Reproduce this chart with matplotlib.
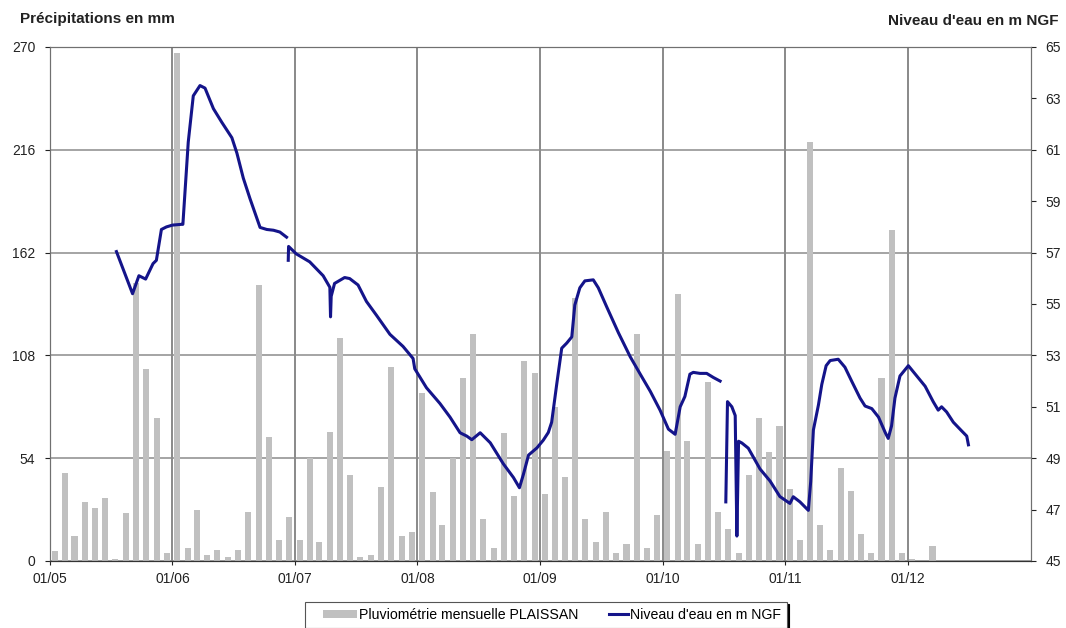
import numpy as np
import pandas as pd
import matplotlib
matplotlib.use('Agg')
import matplotlib.pyplot as plt
import matplotlib.dates as mdates
from matplotlib.patches import Patch
from matplotlib.legend_handler import HandlerLine2D, HandlerPatch

plt.rcParams['font.family'] = ['Liberation Sans', 'DejaVu Sans']

# pluviometrie mensuelle PLAISSAN (mm), janvier 2005 -> mars 2012
rain_2005 = [5, 46, 13, 31, 28, 33, 1, 25, 146, 101, 75, 4]
rain_2006 = [267, 7, 27, 3, 6, 2, 6, 26, 145, 65, 11, 23]
rain_2007 = [11, 54, 10, 68, 117, 45, 2, 3, 39, 102, 13, 15]
rain_2008 = [88, 36, 19, 54, 96, 119, 22, 7, 67, 34, 105, 99]
rain_2009 = [35, 81, 44, 138, 22, 10, 26, 4, 9, 119, 7, 24]
rain_2010 = [58, 140, 63, 9, 94, 26, 17, 4, 45, 75, 57, 71]
rain_2011 = [38, 11, 220, 19, 6, 49, 37, 14, 4, 96, 174, 4]
rain_2012 = [1, 0, 8]
rain = (rain_2005 + rain_2006 + rain_2007 + rain_2008 + rain_2009
        + rain_2010 + rain_2011 + rain_2012)
months = pd.date_range('2005-01-01', periods=len(rain), freq='MS') + pd.Timedelta(days=14)

# niveau d'eau (m NGF), trois troncons
seg1_dates = ['2005-07-18', '2005-09-04', '2005-09-23', '2005-10-13', '2005-11-04',
              '2005-11-14', '2005-11-29', '2005-12-14', '2006-01-01', '2006-01-28',
              '2006-02-01', '2006-02-17', '2006-03-04', '2006-03-24', '2006-04-08',
              '2006-05-03', '2006-05-28', '2006-06-27', '2006-07-12', '2006-07-31',
              '2006-08-20', '2006-09-19', '2006-10-09', '2006-10-29', '2006-11-17',
              '2006-12-07']
seg1_level = [57.04, 55.4, 56.1, 55.97, 56.57, 56.7, 57.9, 58.0, 58.07, 58.1,
              58.1, 61.3, 63.1, 63.5, 63.4, 62.6, 62.07, 61.47, 60.87, 59.9,
              59.1, 57.98, 57.9, 57.87, 57.8, 57.6]

seg2_dates = ['2006-12-12', '2006-12-13', '2007-01-05', '2007-02-14', '2007-03-26',
              '2007-04-15', '2007-04-17', '2007-04-19', '2007-04-29', '2007-05-29',
              '2007-06-13', '2007-07-08', '2007-08-02', '2007-09-01', '2007-10-11',
              '2007-11-19', '2007-12-19', '2007-12-24', '2008-01-28', '2008-03-08',
              '2008-04-07', '2008-05-07', '2008-05-27', '2008-06-11', '2008-07-06',
              '2008-08-05', '2008-09-13', '2008-10-13', '2008-10-31', '2008-11-12',
              '2008-11-27', '2008-12-22', '2009-01-10', '2009-01-25', '2009-02-04',
              '2009-02-19', '2009-03-06', '2009-03-21', '2009-04-05', '2009-04-14',
              '2009-04-29', '2009-05-14', '2009-06-08', '2009-06-23', '2009-07-18',
              '2009-08-22', '2009-09-26', '2009-10-26', '2009-11-25', '2009-12-24',
              '2010-01-18', '2010-02-07', '2010-02-22', '2010-03-08', '2010-03-23',
              '2010-04-02', '2010-04-22', '2010-05-12', '2010-06-01', '2010-06-21']
seg2_level = [56.7, 57.24, 56.95, 56.64, 56.1,
              55.65, 54.5, 55.3, 55.8, 56.03,
              55.99, 55.74, 55.1, 54.56, 53.82,
              53.35, 52.88, 52.48, 51.74, 51.13,
              50.6, 49.99, 49.86, 49.72, 49.99,
              49.6, 48.78, 48.25, 47.85, 48.38,
              49.12, 49.4, 49.7, 50.0, 50.4,
              51.87, 53.28, 53.48, 53.72, 54.96,
              55.63, 55.9, 55.94, 55.63, 54.89,
              53.88, 52.95, 52.27, 51.6, 50.87,
              50.13, 49.93, 51.0, 51.4, 52.27,
              52.34, 52.3, 52.3, 52.14, 52.0]

seg3_dates = ['2010-07-08', '2010-07-13', '2010-07-26', '2010-08-05', '2010-08-10',
              '2010-08-15', '2010-08-25', '2010-09-13', '2010-10-18', '2010-11-17',
              '2010-12-16', '2011-01-15', '2011-01-25', '2011-02-14', '2011-03-11',
              '2011-03-18', '2011-03-26', '2011-04-10', '2011-04-20', '2011-05-03',
              '2011-05-15', '2011-06-08', '2011-06-28', '2011-07-18', '2011-08-12',
              '2011-08-27', '2011-09-16', '2011-10-06', '2011-10-26', '2011-11-04',
              '2011-11-14', '2011-11-24', '2011-12-09', '2012-01-03', '2012-01-28',
              '2012-02-22', '2012-03-17', '2012-04-01', '2012-04-11', '2012-04-26',
              '2012-05-16', '2012-06-10', '2012-06-25', '2012-06-30']
seg3_level = [47.3, 51.2, 51.0, 50.66, 45.97,
              49.66, 49.59, 49.39, 48.58, 48.11,
              47.51, 47.24, 47.5, 47.3, 46.97,
              48.1, 50.1, 51.07, 51.87, 52.6,
              52.8, 52.85, 52.54, 52.0, 51.34,
              51.03, 50.93, 50.6, 50.0, 49.77,
              50.26, 51.34, 52.2, 52.6, 52.2,
              51.8, 51.2, 50.87, 51.0, 50.8,
              50.4, 50.06, 49.86, 49.52]

W, H = 1066, 628
fig = plt.figure(figsize=(W / 100, H / 100), dpi=100)
ax = fig.add_axes([50 / W, 67 / H, 980.5 / W, 514 / H])

bar_color = '#c0c0c0'
ax.bar(months, rain, width=18, color=bar_color, zorder=2)
ax.set_ylim(0, 270)
ax.set_yticks(np.arange(0, 271, 54))
ax.set_xlim(pd.Timestamp('2005-01-01'), pd.Timestamp('2013-01-01'))
ax.set_xticks(pd.date_range('2005-01-01', '2012-01-01', freq='YS'))
ax.xaxis.set_major_formatter(mdates.DateFormatter('%m/%y'))
ax.grid(True, axis='x', color='#6a6a6a', lw=1.1)
ax.grid(True, axis='y', color='#8c8c8c', lw=1.1)
ax.set_axisbelow(True)
ax.tick_params(axis='y', direction='out', length=3.6, pad=7, labelsize=10,
               colors='#222222')
ax.tick_params(axis='x', direction='out', length=3, pad=5, labelsize=10,
               colors='#222222')

ax2 = ax.twinx()
ax2.set_ylim(45, 65)
ax2.set_yticks(range(45, 66, 2))
ax2.tick_params(axis='y', direction='out', length=3.6, pad=7, labelsize=10,
                colors='#222222')

line_kw = dict(color='#14148a', lw=2.2)
line, = ax2.plot(pd.to_datetime(seg1_dates), seg1_level, **line_kw)
ax2.plot(pd.to_datetime(seg2_dates), seg2_level, **line_kw)
ax2.plot(pd.to_datetime(seg3_dates), seg3_level, **line_kw)

for a in (ax, ax2):
    for side in ('left', 'right', 'top'):
        a.spines[side].set_color('#707070')
    a.spines['bottom'].set_color('#333333')

fig.text(20 / W, 1 - 23 / H, 'Précipitations en mm', fontsize=11,
         fontweight='bold', va='baseline', ha='left', color='#222222')
fig.text(1059 / W, 1 - 25 / H, "Niveau d'eau en m NGF", fontsize=11,
         fontweight='bold', va='baseline', ha='right', color='#222222')

rain_handle = Patch(facecolor=bar_color, edgecolor='none')
leg = fig.legend([rain_handle, line],
                 ['Pluviométrie mensuelle PLAISSAN', "Niveau d'eau en m NGF"],
                 loc='center', bbox_to_anchor=(546 / W, 1 - 615 / H), ncol=2,
                 fontsize=10.2, frameon=True, fancybox=False, handlelength=3.2,
                 handleheight=0.5, handletextpad=0.15, columnspacing=0.3,
                 borderpad=0.45,
                 shadow={'ox': 1.5, 'oy': -1.5, 'color': 'black', 'alpha': 1},
                 handler_map={rain_handle: HandlerPatch(xpad=0.82),
                              line: HandlerLine2D(xpad=1.9)})
leg.get_frame().set_edgecolor('#555555')
leg.get_frame().set_linewidth(0.8)

fig.savefig('out.png', dpi=100)
